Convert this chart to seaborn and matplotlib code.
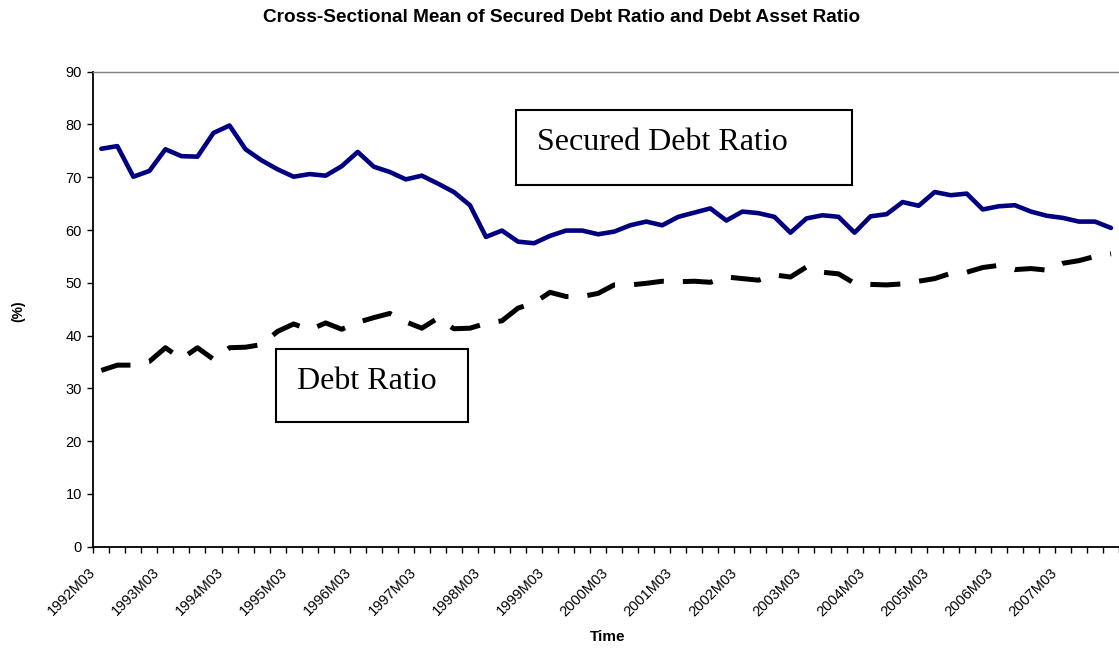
"""Cross-sectional mean of secured debt ratio and debt asset ratio, 1992-2007."""

import numpy as np
import pandas as pd
import matplotlib
matplotlib.use('Agg')
import matplotlib.pyplot as plt
from matplotlib.patches import Rectangle
import seaborn as sns

# ── DATA ──────────────────────────────────────────────────────────────────────

# quarterly periods 1992M03 .. 2007M12
years = list(range(1992, 2008))
months = [3, 6, 9, 12]
periods = [f"{y}M{m:02d}" for y in years for m in months]

secured_debt_ratio = [
    75.4, 75.9, 70.1, 71.2, 75.3, 74.0, 73.9, 78.4,
    79.8, 75.3, 73.2, 71.5, 70.1, 70.6, 70.3, 72.1,
    74.8, 72.0, 71.0, 69.6, 70.3, 68.8, 67.2, 64.7,
    58.7, 59.9, 57.8, 57.5, 58.9, 59.9, 59.9, 59.2,
    59.7, 60.9, 61.6, 60.9, 62.5, 63.3, 64.1, 61.8,
    63.5, 63.2, 62.5, 59.5, 62.2, 62.8, 62.5, 59.5,
    62.6, 63.0, 65.3, 64.6, 67.2, 66.6, 66.9, 63.9,
    64.5, 64.7, 63.5, 62.7, 62.3, 61.6, 61.6, 60.4,
]

debt_ratio = [
    33.4, 34.4, 34.4, 35.1, 37.7, 35.6, 37.7, 35.5,
    37.7, 37.8, 38.3, 40.8, 42.2, 41.1, 42.4, 41.2,
    42.5, 43.4, 44.2, 42.6, 41.4, 43.3, 41.3, 41.4,
    42.3, 42.8, 45.2, 46.2, 48.2, 47.4, 47.4, 48.0,
    49.6, 49.6, 49.9, 50.3, 50.2, 50.3, 50.1, 51.1,
    50.8, 50.5, 51.5, 51.1, 53.0, 52.0, 51.7, 49.9,
    49.7, 49.6, 49.8, 50.3, 50.8, 51.8, 52.0, 52.9,
    53.3, 52.5, 52.7, 52.4, 53.7, 54.2, 55.0, 55.5,
]

y_ticks = list(range(0, 91, 10))
label_every = 4   # one label per year (the M03 quarter)

TITLE = 'Cross-Sectional Mean of Secured Debt Ratio and Debt Asset Ratio'

# ── FIGURE ────────────────────────────────────────────────────────────────────

W, H = 1119, 652


def fx(px):
    return px / W


def fy(py):
    return 1 - py / H


sns.set_style('white')
plt.rcParams['font.family'] = ['Liberation Sans', 'DejaVu Sans']
plt.rcParams.update({
    'text.color': 'black',
    'axes.labelcolor': 'black',
    'xtick.color': 'black',
    'ytick.color': 'black',
})

df = pd.DataFrame({
    'idx': np.arange(len(periods)),
    'period': periods,
    'secured': secured_debt_ratio,
    'debt': debt_ratio,
})

fig = plt.figure(figsize=(W / 100, H / 100), dpi=100)
ax = fig.add_axes([fx(93.3), fy(546.7), fx(W - 93.3), (546.7 - 71.7) / H])

sns.lineplot(data=df, x='idx', y='secured', color='#000080',
             linewidth=3.3, ax=ax)
sns.lineplot(data=df, x='idx', y='debt', color='black',
             linewidth=3.6, ax=ax)
sec_line, debt_line = ax.lines[0], ax.lines[1]
sec_line.set_solid_joinstyle('round')
debt_line.set_dashes([6, 3.8])

# axes & ticks
ax.set_xlim(-0.5, (W - 101.3) / 16.07)
ax.set_ylim(0, 90)
ax.set_yticks(y_ticks)
ax.tick_params(axis='y', length=4, width=1, direction='out',
               pad=4.2, labelsize=10.5, left=True)

lab_pos = np.arange(0, len(periods), label_every) - 0.5
ax.set_xticks(lab_pos)
ax.set_xticklabels(periods[::label_every], rotation=45, ha='right',
                   va='center', rotation_mode='anchor')
ax.set_xticks(np.arange(-0.5, len(periods), 1), minor=True)
ax.tick_params(axis='x', which='both', length=4, width=1, direction='out',
               bottom=True)
ax.tick_params(axis='x', which='major', pad=13, labelsize=10.5)

for side in ('left', 'bottom'):
    ax.spines[side].set_color('black')
    ax.spines[side].set_linewidth(1.3)
ax.spines['top'].set_color('#808080')
ax.spines['top'].set_linewidth(1.0)
ax.spines['right'].set_visible(False)

ax.set_xlabel('Time', fontsize=11, fontweight='bold', va='center')
ax.xaxis.set_label_coords(fx(608), fy(637), transform=fig.transFigure)
ax.set_ylabel('(%)', fontsize=10, fontweight='bold', va='center')
ax.yaxis.set_label_coords(fx(18.5), fy(311.5), transform=fig.transFigure)

fig.text(fx(561.5), fy(17.5), TITLE, fontsize=13.7, fontweight='bold',
         ha='center', va='center')

# ── ANNOTATION BOXES ──────────────────────────────────────────────────────────

boxes = [
    # (left, top, right, bottom, text x, text baseline, label)
    (516, 110, 852, 185, 537, 150, 'Secured Debt Ratio'),
    (276, 349, 468, 422, 297, 389, 'Debt Ratio'),
]
for x0, y0, x1, y1, tx, ty, txt in boxes:
    fig.patches.append(Rectangle(
        (fx(x0), fy(y1)), fx(x1 - x0), (y1 - y0) / H,
        transform=fig.transFigure, facecolor='white', edgecolor='black',
        linewidth=1.5, zorder=5))
    fig.text(fx(tx), fy(ty), txt, fontsize=23, family='Liberation Serif',
             ha='left', va='baseline', zorder=6)

fig.savefig('out.png', dpi=100)
